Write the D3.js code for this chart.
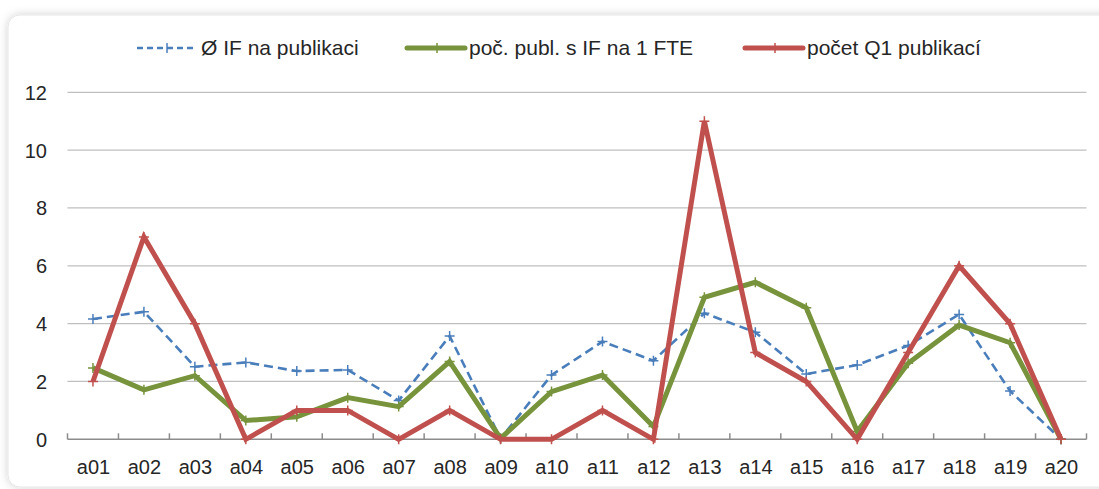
<!DOCTYPE html>
<html><head><meta charset="utf-8">
<script src="https://cdn.jsdelivr.net/npm/d3@7"></script>
<style>
html,body{margin:0;padding:0;background:#fff;}
svg{display:block;}
</style></head>
<body>
<svg id="c" width="1099" height="489"></svg>
<script>
const categories = ["a01","a02","a03","a04","a05","a06","a07","a08","a09","a10","a11","a12","a13","a14","a15","a16","a17","a18","a19","a20"];
const ifPerPub = [4.16,4.41,2.51,2.66,2.36,2.40,1.34,3.57,0.03,2.22,3.38,2.72,4.36,3.70,2.26,2.57,3.24,4.32,1.67,0];
const pubPerFTE = [2.47,1.71,2.20,0.65,0.78,1.44,1.13,2.69,0.03,1.65,2.22,0.44,4.91,5.43,4.55,0.27,2.63,3.95,3.34,0];
const q1Pubs = [2,7,4,0,1,1,0,1,0,0,1,0,11,3,2,0,3,6,4,0];
const yTicks = [0,2,4,6,8,10,12];
const seriesNames = ["Ø IF na publikaci","poč. publ. s IF na 1 FTE","počet Q1 publikací"];

(function(){
const svg = d3.select("#c");
const font = "'Liberation Sans', Arial, sans-serif";
const txt = "#262626";

// card
const defs = svg.append("defs");
const f = defs.append("filter").attr("id","sh").attr("x","-5%").attr("y","-5%").attr("width","110%").attr("height","110%");
f.append("feGaussianBlur").attr("in","SourceAlpha").attr("stdDeviation",4).attr("result","b");
f.append("feFlood").attr("flood-color","#000").attr("flood-opacity",0.18).attr("result","c");
f.append("feComposite").attr("in","c").attr("in2","b").attr("operator","in").attr("result","s");
const m = f.append("feMerge"); m.append("feMergeNode").attr("in","s"); m.append("feMergeNode").attr("in","SourceGraphic");
svg.append("rect").attr("x",8).attr("y",15).attr("width",1120).attr("height",472).attr("rx",12)
  .attr("fill","#fff").attr("stroke","#e6e6e6").attr("filter","url(#sh)");

const pl = 67.5, pr = 1086.5, pt = 92.3, pb = 439.3;
const x = d3.scalePoint().domain(categories).range([pl, pr]).padding(0.5);
const xb = d3.scaleBand().domain(categories).range([pl, pr]);
const y = d3.scaleLinear().domain([0,12]).range([pb, pt]);

// grid
svg.append("g").selectAll("line").data(yTicks.filter(d=>d>0)).join("line")
  .attr("x1",pl).attr("x2",pr).attr("y1",d=>y(d)).attr("y2",d=>y(d))
  .attr("stroke","#bfbfbf").attr("stroke-width",1.2);

// y axis labels
const yAxis = d3.axisLeft(y).tickValues(yTicks).tickSize(0).tickPadding(0);
const gy = svg.append("g").attr("transform",`translate(47,0)`).call(yAxis);
gy.select(".domain").remove();
gy.selectAll("text").attr("font-family",font).attr("font-size",20).attr("fill",txt).attr("dy","0.35em");

// x axis
const gx = svg.append("g").attr("transform",`translate(0,${pb})`);
gx.append("line").attr("x1",pl).attr("x2",pr).attr("stroke","#8c8c8c").attr("stroke-width",1.5);
const bounds = categories.map(c=>xb(c)).concat([pr]);
gx.selectAll("line.t").data(bounds).join("line").attr("class","t")
  .attr("x1",d=>d).attr("x2",d=>d).attr("y1",0).attr("y2",-6).attr("stroke","#8c8c8c").attr("stroke-width",1.5);
const xAxis = d3.axisBottom(x).tickSize(0).tickPadding(0);
const gxl = svg.append("g").attr("transform",`translate(0,${pb})`).call(xAxis);
gxl.select(".domain").remove();
gxl.selectAll("text").attr("font-family",font).attr("font-size",20).attr("fill",txt).attr("dy","0").attr("y",35);

const series = [
  {name:seriesNames[0], vals:ifPerPub, color:"#4a7ebb", w:2.6, dash:"9,5", ldash:"6,4", lx:137, tx:201},
  {name:seriesNames[1], vals:pubPerFTE, color:"#77933c", w:5, dash:null, lx:407, tx:469},
  {name:seriesNames[2], vals:q1Pubs, color:"#c0504d", w:5, dash:null, lx:745, tx:807}
];
const line = d3.line().x((d,i)=>x(categories[i])).y(d=>y(d));
series.forEach(s=>{
  const g = svg.append("g");
  g.append("path").datum(s.vals).attr("d",line).attr("fill","none").attr("stroke",s.color)
    .attr("stroke-width",s.w).attr("stroke-linejoin","miter").attr("stroke-dasharray",s.dash);
  const k = 5;
  g.selectAll("path.m").data(s.vals).join("path").attr("class","m")
    .attr("d",(d,i)=>{const cx=x(categories[i]),cy=y(d);return `M${cx-k},${cy}H${cx+k}M${cx},${cy-k}V${cy+k}`;})
    .attr("stroke",s.color).attr("stroke-width",1.5);
});

// legend
series.forEach((s,i)=>{
  const g = svg.append("g").attr("transform",`translate(${s.lx},48)`);
  g.append("line").attr("x1",0).attr("x2",58).attr("stroke",s.color).attr("stroke-width",s.w)
    .attr("stroke-linecap", s.dash ? "butt" : "round")
    .attr("stroke-dasharray",s.ldash || null);
  g.append("path").attr("d","M30,-5V5").attr("stroke",s.color).attr("stroke-width",1.5);
  g.append("text").attr("x",s.tx - s.lx).attr("dy","0.35em").attr("font-family",font).attr("font-size",21)
    .attr("fill",txt).text(s.name);
});
})();
</script>
</body></html>
